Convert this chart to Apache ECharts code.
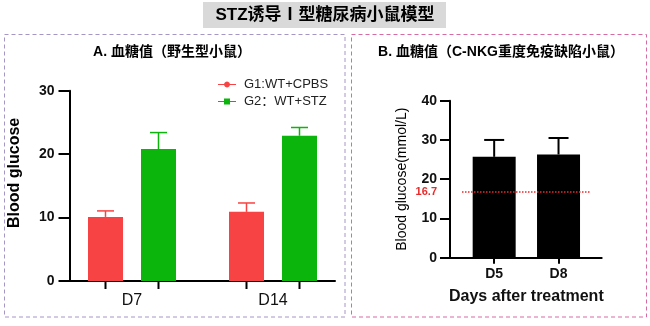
<!DOCTYPE html>
<html>
<head>
<meta charset="utf-8">
<script src="https://cdn.jsdelivr.net/npm/echarts@6/dist/echarts.min.js"></script>
<style>html,body{margin:0;padding:0;background:#fff;}#c{width:650px;height:326px;}</style>
</head>
<body>
<div id="c"></div>
<script>
// ---- data ----
const mainTitle = 'STZ诱导Ⅰ型糖尿病小鼠模型';
const titleA = 'A. 血糖值（野生型小鼠）';
const titleB = 'B. 血糖值（C-NKG重度免疫缺陷小鼠）';
const categoriesA = ['D7', 'D14'];
const seriesNamesA = ['G1:WT+CPBS', 'G2：WT+STZ'];
const g1Mean = [10.1, 10.9];
const g1Err = [0.95, 1.4];
const g2Mean = [20.8, 22.9];
const g2Err = [2.6, 1.3];
const yTicksA = [0, 10, 20, 30];
const yNameA = 'Blood glucose';
const categoriesB = ['D5', 'D8'];
const bMean = [25.7, 26.3];
const bErr = [4.3, 4.2];
const thresholdB = 16.7;
const yTicksB = [0, 10, 20, 30, 40];
const yNameB = 'Blood glucose(mmol/L)';
const xNameB = 'Days after treatment';

// ---- styles ----
const FONT = '"Liberation Sans", Arial, "Noto Sans CJK SC", sans-serif';
const RED = '#f74343';
const GREEN = '#0bb50b';
const barWA = 35, gapA = 18;
const offA = (barWA + gapA) / 2;

// error bar (+ the x-axis tick under each bar, as in the original figure)
function errRenderer(offset, capW, lw, color, tickLen) {
  return function (params, api) {
    const x = api.value(0), m = api.value(1), e = api.value(2);
    const p0 = api.coord([x, m]);
    const p1 = api.coord([x, m + e]);
    const pz = api.coord([x, 0]);
    const cx = p0[0] + offset;
    const children = [
      { type: 'line', shape: { x1: cx, y1: p0[1], x2: cx, y2: p1[1] }, style: { stroke: color, lineWidth: lw } },
      { type: 'line', shape: { x1: cx - capW / 2, y1: p1[1], x2: cx + capW / 2, y2: p1[1] }, style: { stroke: color, lineWidth: lw } }
    ];
    if (tickLen) {
      children.push({ type: 'rect', z2: 10, shape: { x: cx - 1, y: pz[1], width: 2, height: tickLen }, style: { fill: '#000' } });
    }
    return { type: 'group', children: children };
  };
}

const chart = echarts.init(document.getElementById('c'), null, { renderer: 'canvas' });

const axisBlack = { lineStyle: { color: '#000', width: 2 } };
const ICON_CIRCLE = 'path://M0,3.4 L18,3.4 L18,4.6 L0,4.6 Z M12,4 L11.6,5.5 L10.5,6.6 L9,7 L7.5,6.6 L6.4,5.5 L6,4 L6.4,2.5 L7.5,1.4 L9,1 L10.5,1.4 L11.6,2.5 Z';
const ICON_SQUARE = 'path://M0,3.4 L18,3.4 L18,4.6 L0,4.6 Z M6,1 L12,1 L12,7 L6,7 Z';

const option = {
  backgroundColor: '#fff',
  animation: false,
  textStyle: { fontFamily: FONT },
  graphic: [
    { type: 'rect', shape: { x: 203, y: 2, width: 243, height: 26 }, style: { fill: '#d9d9d9' }, z: 0 },
    { type: 'text', x: 325, y: 15.5, style: { text: mainTitle, fill: '#000', fontSize: 17, fontWeight: 'bold', fontFamily: FONT, align: 'center', verticalAlign: 'middle' }, z: 1 },
    { type: 'rect', shape: { x: 4.5, y: 34.5, width: 340.5, height: 282.5 }, style: { fill: null, stroke: '#a497c6', lineWidth: 1, lineDash: [4, 3] }, z: 0, silent: true },
    { type: 'rect', shape: { x: 351.5, y: 34.5, width: 295, height: 282.5 }, style: { fill: null, stroke: '#d66aa5', lineWidth: 1, lineDash: [4, 3] }, z: 0, silent: true },
    { type: 'text', x: 172, y: 52, style: { text: titleA, fill: '#000', fontSize: 14, fontWeight: 'bold', fontFamily: FONT, align: 'center', verticalAlign: 'middle' } },
    { type: 'text', x: 501, y: 52, style: { text: titleB, fill: '#000', fontSize: 14, fontWeight: 'bold', fontFamily: FONT, align: 'center', verticalAlign: 'middle' } }
  ],
  legend: {
    left: 213, top: 73, orient: 'vertical',
    itemWidth: 18, itemHeight: 8, itemGap: 4,
    textStyle: { fontSize: 13, color: '#222', padding: [0, 0, 0, 3], fontFamily: FONT },
    data: [
      { name: seriesNamesA[0], icon: ICON_CIRCLE },
      { name: seriesNamesA[1], icon: ICON_SQUARE }
    ]
  },
  grid: [
    { left: 69.5, top: 90.7, width: 265.5, height: 190.3 },
    { left: 61.5, top: 90.7, width: 282, height: 190.3 },
    { left: 450, top: 100.7, width: 151.7, height: 157 },
    { left: 462, top: 100.7, width: 128.7, height: 157 }
  ],
  xAxis: [
    { gridIndex: 0, type: 'category', position: 'bottom', data: ['a'], axisLine: axisBlack, axisTick: { show: false }, axisLabel: { show: false } },
    { gridIndex: 1, type: 'category', position: 'bottom', data: categoriesA, axisLine: { show: false }, axisTick: { show: false },
      axisLabel: { fontSize: 16, color: '#111', margin: 12, fontFamily: FONT } },
    { gridIndex: 2, type: 'category', position: 'bottom', data: ['b'], axisLine: axisBlack, axisTick: { show: false }, axisLabel: { show: false } },
    { gridIndex: 3, type: 'category', position: 'bottom', data: categoriesB, axisLine: { show: false },
      axisTick: { show: true, alignWithLabel: true, interval: 0, length: 6, lineStyle: { color: '#000', width: 2 } },
      axisLabel: { fontSize: 14, fontWeight: 'bold', color: '#111', margin: 9, fontFamily: FONT },
      name: xNameB, nameLocation: 'middle', nameGap: 31,
      nameTextStyle: { fontSize: 16, fontWeight: 'bold', color: '#111', fontFamily: FONT } }
  ],
  yAxis: [
    { gridIndex: 0, type: 'value', min: yTicksA[0], max: yTicksA[yTicksA.length - 1], interval: yTicksA[1] - yTicksA[0],
      axisLine: { show: true, lineStyle: { color: '#000', width: 2 } },
      axisTick: { show: true, length: 11, lineStyle: { color: '#000', width: 2 } },
      axisLabel: { fontSize: 14, fontWeight: 'bold', color: '#111', margin: 15, fontFamily: FONT },
      splitLine: { show: false },
      name: yNameA, nameLocation: 'middle', nameGap: 47,
      nameTextStyle: { fontSize: 16, fontWeight: 'bold', color: '#000', fontFamily: FONT, padding: [0, 0, 0, 26] } },
    { gridIndex: 1, type: 'value', min: yTicksA[0], max: yTicksA[yTicksA.length - 1], show: false, splitLine: { show: false } },
    { gridIndex: 2, type: 'value', min: yTicksB[0], max: yTicksB[yTicksB.length - 1], interval: yTicksB[1] - yTicksB[0],
      axisLine: { show: true, lineStyle: { color: '#000', width: 2 } },
      axisTick: { show: true, length: 10, lineStyle: { color: '#000', width: 2 } },
      axisLabel: { fontSize: 14, fontWeight: 'bold', color: '#111', margin: 13, fontFamily: FONT },
      splitLine: { show: false },
      name: yNameB, nameLocation: 'middle', nameGap: 41,
      nameTextStyle: { fontSize: 14, color: '#000', fontFamily: FONT } },
    { gridIndex: 3, type: 'value', min: yTicksB[0], max: yTicksB[yTicksB.length - 1], show: false, splitLine: { show: false } }
  ],
  series: [
    { name: seriesNamesA[0], type: 'bar', xAxisIndex: 1, yAxisIndex: 1, data: g1Mean, barWidth: barWA, barGap: (gapA / barWA * 100).toFixed(1) + '%',
      itemStyle: { color: RED }, z: 2 },
    { name: seriesNamesA[1], type: 'bar', xAxisIndex: 1, yAxisIndex: 1, data: g2Mean, barWidth: barWA, barGap: (gapA / barWA * 100).toFixed(1) + '%',
      itemStyle: { color: GREEN }, z: 2 },
    { name: 'G1 err', type: 'custom', xAxisIndex: 1, yAxisIndex: 1, z: 10, clip: false,
      data: categoriesA.map((c, i) => [i, g1Mean[i], g1Err[i]]), encode: { x: 0, y: 1 },
      renderItem: errRenderer(-offA, 17, 1.5, RED, 8) },
    { name: 'G2 err', type: 'custom', xAxisIndex: 1, yAxisIndex: 1, z: 10, clip: false,
      data: categoriesA.map((c, i) => [i, g2Mean[i], g2Err[i]]), encode: { x: 0, y: 1 },
      renderItem: errRenderer(offA, 17, 1.5, GREEN, 8) },
    { name: 'B', type: 'bar', xAxisIndex: 3, yAxisIndex: 3, data: bMean, barWidth: 43,
      itemStyle: { color: '#000' }, z: 2,
      markLine: { silent: true, symbol: ['none', 'none'], data: [{ yAxis: thresholdB }],
        lineStyle: { type: 'dotted', color: '#e82a2a', width: 1.5 },
        label: { position: 'start', formatter: '{c}', color: '#e82a2a', fontWeight: 'bold', fontSize: 11, distance: 25, fontFamily: FONT } } },
    { name: 'B err', type: 'custom', xAxisIndex: 3, yAxisIndex: 3, z: 10, clip: false,
      data: categoriesB.map((c, i) => [i, bMean[i], bErr[i]]), encode: { x: 0, y: 1 },
      renderItem: errRenderer(0, 20, 2, '#000', 0) }
  ]
};
chart.setOption(option);
</script>
</body>
</html>
